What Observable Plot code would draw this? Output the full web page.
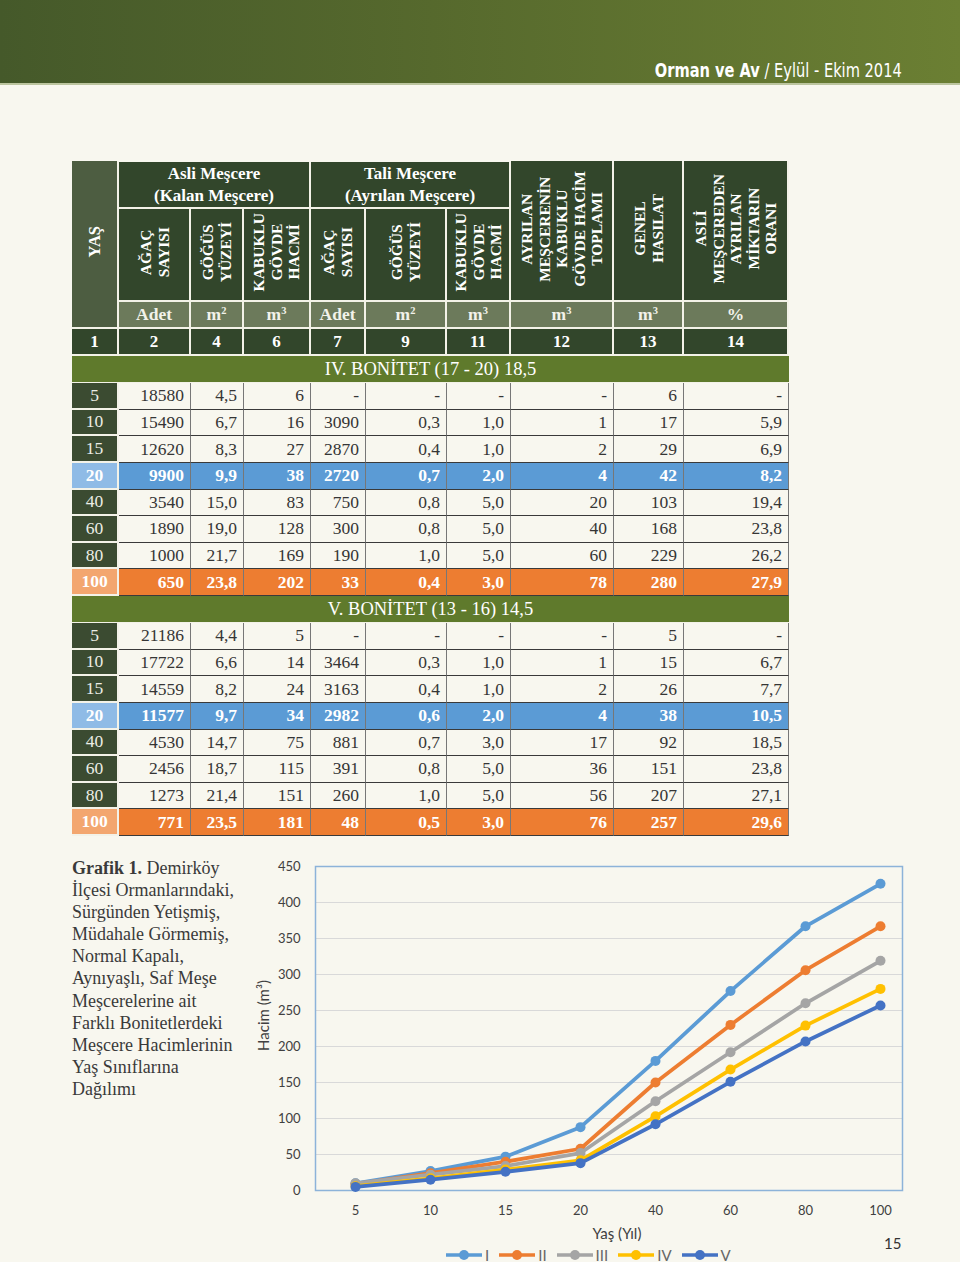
<!DOCTYPE html>
<html><head><meta charset="utf-8">
<script src="https://cdn.jsdelivr.net/npm/d3@7"></script>
<script src="https://cdn.jsdelivr.net/npm/@observablehq/plot@0.6"></script>
<style>
html,body{margin:0;padding:0;}
body{width:960px;height:1262px;background:#f8f7ef;position:relative;overflow:hidden;font-family:"Liberation Serif","DejaVu Serif",serif;}
#banner{position:absolute;left:0;top:0;width:960px;height:83px;background:linear-gradient(90deg,#45592a 0%,#56692d 45%,#6b7f33 100%);border-bottom:2px solid #bcc59f;}
#banner .t{position:absolute;right:58px;top:59px;font-family:"Liberation Sans Narrow","DejaVu Sans Condensed",sans-serif;font-size:19px;line-height:22px;color:#fff;white-space:nowrap;transform:scaleX(0.855);transform-origin:right center;}
.c{position:absolute;box-sizing:border-box;display:flex;align-items:center;justify-content:center;overflow:hidden;white-space:nowrap;}
.h{background:#32462b;color:#fff;font-weight:bold;border-right:2px solid #f3f2e8;border-bottom:2px solid #f3f2e8;}
.v{writing-mode:vertical-rl;transform:rotate(180deg);text-align:center;font-size:15.5px;line-height:17.5px;font-weight:bold;}
.d{justify-content:flex-end;padding-right:6px;font-size:17.5px;color:#353535;border-right:1px solid #777;border-bottom:1px solid #3a3a3a;}
.f{font-size:17.5px;color:#eceee6;background:#3b4b31;border-right:2px solid #f3f2e8;border-bottom:2px solid #f3f2e8;}
sup{font-size:0.6em;vertical-align:0.55em;line-height:0;}
#caption{position:absolute;left:72px;top:857px;font-size:18px;line-height:22.1px;color:#3a3a3a;white-space:nowrap;}
#chart{position:absolute;left:250px;top:850px;}
#legend{position:absolute;left:446px;top:1248px;display:flex;align-items:center;font-family:Lato,sans-serif;font-size:15px;color:#666;height:14px;}
#legend span{margin-left:3px;margin-right:10px;line-height:14px;}
#pg{position:absolute;left:884px;top:1234px;font-family:Lato,sans-serif;font-size:15px;color:#333;}
</style></head>
<body>
<div id="banner"><div class="t"><b>Orman ve Av</b> / Eylül - Ekim 2014</div></div>
<div id="table"></div>
<div id="caption"><b>Grafik 1.</b> Demirköy<br>İlçesi Ormanlarındaki,<br>Sürgünden Yetişmiş,<br>Müdahale Görmemiş,<br>Normal Kapalı,<br>Aynıyaşlı, Saf Meşe<br>Meşcerelerine ait<br>Farklı Bonitetlerdeki<br>Meşcere Hacimlerinin<br>Yaş Sınıflarına<br>Dağılımı</div>
<div id="chart"></div>
<div id="legend"></div>
<div id="pg">15</div>
<script>
// ---------- DATA ----------
const ages = [5, 10, 15, 20, 40, 60, 80, 100];

const groupHeaders = ["Asli Meşcere<br>(Kalan Meşcere)", "Tali Meşcere<br>(Ayrılan Meşcere)"];
const colHeaders = ["AĞAÇ<br>SAYISI", "GÖĞÜS<br>YÜZEYİ", "KABUKLU<br>GÖVDE<br>HACMİ", "AĞAÇ<br>SAYISI", "GÖĞÜS<br>YÜZEYİ", "KABUKLU<br>GÖVDE<br>HACMİ",
  "AYRILAN<br>MEŞCERENİN<br>KABUKLU<br>GÖVDE HACİM<br>TOPLAMI", "GENEL<br>HASILAT", "ASLİ<br>MEŞCEREDEN<br>AYRILAN<br>MİKTARIN<br>ORANI"];
const units = ["Adet", "m<sup>2</sup>", "m<sup>3</sup>", "Adet", "m<sup>2</sup>", "m<sup>3</sup>", "m<sup>3</sup>", "m<sup>3</sup>", "%"];
const colNumbers = ["1", "2", "4", "6", "7", "9", "11", "12", "13", "14"];
const sectionTitles = ["IV. BONİTET (17 - 20) 18,5", "V. BONİTET (13 - 16) 14,5"];

// IV. Bonitet
const iv_agac   = [18580, 15490, 12620, 9900, 3540, 1890, 1000, 650];
const iv_gogus  = [4.5, 6.7, 8.3, 9.9, 15.0, 19.0, 21.7, 23.8];
const iv_hacim  = [6, 16, 27, 38, 83, 128, 169, 202];
const iv_tagac  = [null, 3090, 2870, 2720, 750, 300, 190, 33];
const iv_tgogus = [null, 0.3, 0.4, 0.7, 0.8, 0.8, 1.0, 0.4];
const iv_thacim = [null, 1.0, 1.0, 2.0, 5.0, 5.0, 5.0, 3.0];
const iv_toplam = [null, 1, 2, 4, 20, 40, 60, 78];
const iv_genel  = [6, 17, 29, 42, 103, 168, 229, 280];
const iv_oran   = [null, 5.9, 6.9, 8.2, 19.4, 23.8, 26.2, 27.9];

// V. Bonitet
const v_agac   = [21186, 17722, 14559, 11577, 4530, 2456, 1273, 771];
const v_gogus  = [4.4, 6.6, 8.2, 9.7, 14.7, 18.7, 21.4, 23.5];
const v_hacim  = [5, 14, 24, 34, 75, 115, 151, 181];
const v_tagac  = [null, 3464, 3163, 2982, 881, 391, 260, 48];
const v_tgogus = [null, 0.3, 0.4, 0.6, 0.7, 0.8, 1.0, 0.5];
const v_thacim = [null, 1.0, 1.0, 2.0, 3.0, 5.0, 5.0, 3.0];
const v_toplam = [null, 1, 2, 4, 17, 36, 56, 76];
const v_genel  = [5, 15, 26, 38, 92, 151, 207, 257];
const v_oran   = [null, 6.7, 7.7, 10.5, 18.5, 23.8, 27.1, 29.6];

// Chart series (I–III; IV and V = Genel hasılat)
const s1 = [10, 27, 47, 88, 180, 277, 367, 426];
const s2 = [9, 24, 40, 58, 150, 230, 306, 367];
const s3 = [10, 22, 34, 52, 124, 192, 260, 319];
const seriesNames = ["I", "II", "III", "IV", "V"];
const seriesColors = ["#5b9bd5", "#ed7d31", "#a5a5a5", "#ffc000", "#4472c4"];
const yTicks = [0, 50, 100, 150, 200, 250, 300, 350, 400, 450];
const xLabel = "Yaş (Yıl)";
const yLabel = "Hacim (m³)";

// ---------- TABLE ----------
const T = document.getElementById("table");
const edges = [72, 119, 191, 244, 311, 366, 447, 511, 614, 684, 789];
function cell(x0, x1, y0, y1, html, cls, css) {
  const d = document.createElement("div");
  d.className = "c " + (cls || "");
  d.style.left = x0 + "px"; d.style.top = y0 + "px";
  d.style.width = (x1 - x0) + "px"; d.style.height = (y1 - y0) + "px";
  if (css) d.style.cssText += css;
  d.innerHTML = "<span>" + html + "</span>";
  T.appendChild(d);
  return d;
}
// header
cell(72, 119, 161, 329, '<span class="v" style="font-size:16.5px;display:inline-block">YAŞ</span>', "h", "background:#4d5d41");
cell(119, 311, 162, 209, groupHeaders[0], "h", "font-size:17px;line-height:22px;text-align:center;white-space:normal");
cell(311, 511, 162, 209, groupHeaders[1], "h", "font-size:17px;line-height:22px;text-align:center;white-space:normal");
colHeaders.forEach((t, i) => {
  const top = i < 6 ? 209 : 161;
  cell(edges[i + 1], edges[i + 2], top, 302, '<span class="v" style="display:inline-block">' + t + '</span>', "h");
});
units.forEach((u, i) => cell(edges[i + 1], edges[i + 2], 302, 329, u, "h", "background:#6c7a5b;font-size:17.5px;color:#f2f2ea"));
colNumbers.forEach((n, i) => cell(edges[i], edges[i + 1], 329, 356, n, "h", "font-size:17px"));

const fmt = (v, dec) => v == null ? "-" : (dec ? v.toFixed(1).replace(".", ",") : String(v));
const decs = [0, 1, 0, 0, 1, 1, 0, 0, 1];
const blocks = [
  [iv_agac, iv_gogus, iv_hacim, iv_tagac, iv_tgogus, iv_thacim, iv_toplam, iv_genel, iv_oran],
  [v_agac, v_gogus, v_hacim, v_tagac, v_tgogus, v_thacim, v_toplam, v_genel, v_oran]
];
const rowH = 26.625;
blocks.forEach((cols, b) => {
  const secTop = b === 0 ? 356 : 356 + 27 + 8 * rowH;
  cell(72, 789, secTop, secTop + 27, sectionTitles[b], "", "background:#5f7a2c;color:#fff;font-size:18.5px;border-bottom:1px solid #f3f2e8");
  ages.forEach((a, i) => {
    const y0 = secTop + 27 + i * rowH, y1 = y0 + rowH;
    const hl = i === 3 ? "blue" : (i === ages.length - 1 ? "orange" : null);
    const rowBg = hl === "blue" ? "#5b9bd5" : hl === "orange" ? "#ed7d31" : null;
    const firstBg = hl === "blue" ? "#8fbbe6" : hl === "orange" ? "#f3a66f" : "#3b4b31";
    cell(72, 119, y0, y1, String(a), "f", "background:" + firstBg + (hl ? ";font-weight:bold;color:#fff" : ""));
    cols.forEach((arr, j) => {
      cell(edges[j + 1], edges[j + 2], y0, y1, fmt(arr[i], decs[j]), "d",
        rowBg ? "background:" + rowBg + ";color:#fff;font-weight:bold" : "");
    });
  });
});

// ---------- CHART ----------
const seriesVals = [s1, s2, s3, iv_genel, v_genel];
const chartRows = seriesNames.flatMap((s, k) => seriesVals[k].map((v, i) => ({s, age: ages[i], v})));

const chart = Plot.plot({
  width: 670, height: 400,
  marginLeft: 65, marginTop: 16, marginRight: 18, marginBottom: 60,
  style: {fontFamily: "Lato, sans-serif", fontSize: "13px", color: "#404040", background: "transparent", overflow: "visible"},
  x: {type: "point", domain: ages, range: [103, 632], padding: 0, tickSize: 0, tickPadding: 15, label: null},
  y: {domain: [0, 450], ticks: yTicks, tickSize: 0, tickPadding: 15, label: null},
  color: {domain: seriesNames, range: seriesColors},
  marks: [
    Plot.ruleY(yTicks, {stroke: "#d9d9d9"}),
    Plot.frame({stroke: "#8db3d9", strokeWidth: 1.5}),
    ...seriesNames.flatMap(s => {
      const rows = chartRows.filter(d => d.s === s);
      return [
        Plot.line(rows, {x: "age", y: "v", stroke: "s", strokeWidth: 3.75, strokeLinejoin: "round", strokeLinecap: "round"}),
        Plot.dot(rows, {x: "age", y: "v", r: 5, fill: "s"})
      ];
    }),
    Plot.text([xLabel], {frameAnchor: "bottom", textAnchor: "middle", lineAnchor: "middle", dx: 8, dy: 44, text: d => d, fontSize: 15, fill: "#404040"}),
    Plot.text([yLabel], {frameAnchor: "left", textAnchor: "middle", lineAnchor: "middle", rotate: -90, dx: -51, dy: -13, text: d => d, fontSize: 15, fill: "#404040"})
  ]
});
document.getElementById("chart").appendChild(chart);

// ---------- LEGEND ----------
const L = document.getElementById("legend");
seriesNames.forEach((s, k) => {
  const c = seriesColors[k];
  L.insertAdjacentHTML("beforeend",
    `<svg width="36" height="12"><line x1="0" y1="6" x2="36" y2="6" stroke="${c}" stroke-width="3.5"/><circle cx="18" cy="6" r="5" fill="${c}"/></svg><span>${s}</span>`);
});
</script>
</body></html>
